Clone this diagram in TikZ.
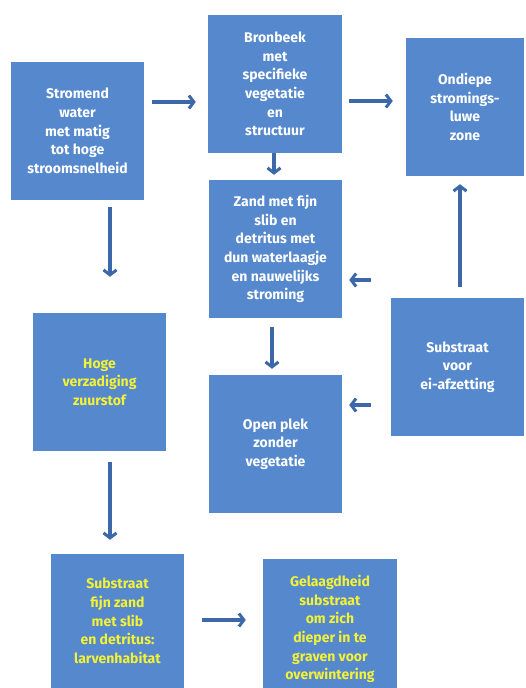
\documentclass[tikz,border=0pt]{standalone}
\usepackage{fontspec}
\setmainfont{Fira Sans}
\usetikzlibrary{arrows.meta}
\definecolor{boxblue}{HTML}{5588CD}
\definecolor{arrblue}{HTML}{3C67A8}
\definecolor{txtyellow}{HTML}{F4F236}
\tikzset{
  box/.style={rectangle, fill=boxblue, inner sep=0pt, align=center, text=white,
    font=\fontsize{14}{18.7}\selectfont\bfseries},
  ytext/.style={text=txtyellow},
  arr/.style={draw=arrblue, line width=4pt,
    -{Straight Barb[length=5pt,width=13pt,line width=3pt]}},
}
\begin{document}
\begin{tikzpicture}[x=1pt,y=-1pt]
\useasboundingbox (0,0) rectangle (526,688);
\node[box, minimum width=133pt, minimum height=138pt] (n1) at (77.5,131) {Stromend\\water\\met matig\\tot hoge\\stroomsnelheid};
\node[box, minimum width=134pt, minimum height=138pt] (n2) at (275,84) {Bronbeek\\met\\specifieke\\vegetatie\\en\\structuur};
\node[box, minimum width=118pt, minimum height=138pt] (n3) at (465,107) {Ondiepe\\stromings-\\luwe\\zone};
\node[box, minimum width=133pt, minimum height=138pt] (n4) at (275.5,249) {Zand met fijn\\slib en\\detritus met\\dun waterlaagje\\en nauwelijks\\stroming};
\node[box, minimum width=133pt, minimum height=138pt] (n5) at (457.5,367) {Substraat\\voor\\ei-afzetting};
\node[box, ytext, minimum width=133pt, minimum height=138pt] (n6) at (99.5,382) {Hoge\\verzadiging\\zuurstof};
\node[box, minimum width=133pt, minimum height=138pt] (n7) at (275.5,444) {Open plek\\zonder\\vegetatie};
\node[box, ytext, minimum width=133pt, minimum height=134pt] (n8) at (117.5,621) {Substraat\\fijn zand\\met slib\\en detritus:\\larvenhabitat};
\node[box, minimum width=134pt, minimum height=129pt] (n9) at (330,623.5) {};
\node[box, ytext, fill=none] (t9) at (330,629) {Gelaagdheid\\substraat\\om zich\\dieper in te\\graven voor\\overwintering};
\coordinate (ya) at (0,102);
\coordinate (yb) at (0,101);
\coordinate (yc) at (0,280);
\coordinate (yd) at (0,405);
\coordinate (ye) at (0,620);
\coordinate (xa) at (274,0);
\coordinate (xb) at (460,0);
\coordinate (xc) at (272,0);
\coordinate (xd) at (110,0);
\draw[arr, shorten <=8pt, shorten >=12pt] (n1.east |- ya) -- (n2.west |- ya);
\draw[arr, shorten <=7pt, shorten >=13pt] (n2.east |- yb) -- (n3.west |- yb);
\draw[arr, shorten <=0pt, shorten >=5pt] (n2.south -| xa) -- (n4.north -| xa);
\draw[arr, shorten <=11pt, shorten >=8pt] (n5.north -| xb) -- (n3.south -| xb);
\draw[arr, shorten <=20pt, shorten >=7pt] (n5.west |- yc) -- (n4.east |- yc);
\draw[arr, shorten <=20pt, shorten >=7pt] (n5.west |- yd) -- (n7.east |- yd);
\draw[arr, shorten <=9pt, shorten >=6pt] (n4.south -| xc) -- (n7.north -| xc);
\draw[arr, shorten <=7pt, shorten >=36pt] (n1.south -| xd) -- (n6.north -| xd);
\draw[arr, shorten <=11pt, shorten >=14pt] (n6.south -| xd) -- (n8.north -| xd);
\draw[arr, shorten <=18pt, shorten >=17pt] (n8.east |- ye) -- (n9.west |- ye);
\end{tikzpicture}
\end{document}
